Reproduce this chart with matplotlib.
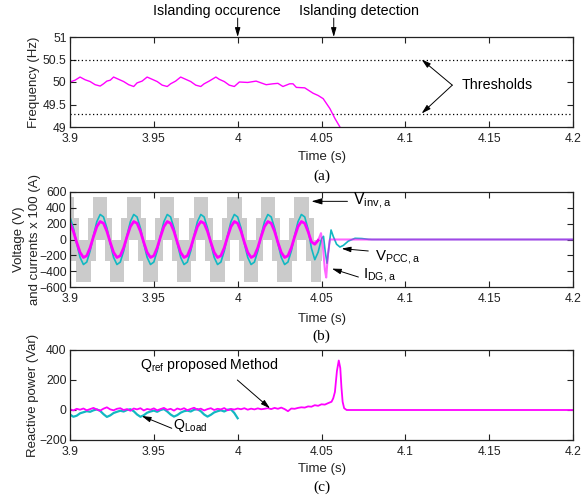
import matplotlib

matplotlib.use("Agg")
import matplotlib.pyplot as plt

plt.rcParams["font.family"] = ["Liberation Sans", "DejaVu Sans"]
plt.rcParams["mathtext.default"] = "regular"

W, H = 582, 501
MAGENTA = "#ff00ff"
CYAN = "#12b8c2"
GRAY = "#cbcbcb"

# (a) frequency
freq_t = [3.900, 3.903, 3.906, 3.909, 3.912, 3.915, 3.918, 3.920, 3.922, 3.924,
          3.926, 3.929, 3.932, 3.935, 3.938, 3.940, 3.943, 3.946, 3.949, 3.952,
          3.955, 3.958, 3.960, 3.963, 3.966, 3.969, 3.972, 3.975, 3.978, 3.980,
          3.983, 3.987, 3.989, 3.992, 3.995, 3.998, 4.001, 4.006, 4.011, 4.014,
          4.017, 4.021, 4.024, 4.027, 4.031, 4.033, 4.035, 4.040, 4.045, 4.048,
          4.051, 4.055, 4.058, 4.061, 4.063]
freq_hz = [50.00, 50.04, 50.11, 50.05, 50.01, 49.94, 49.91, 49.96, 50.02, 50.04,
           50.11, 50.06, 50.01, 49.94, 49.90, 49.98, 50.02, 50.11, 50.06, 50.01,
           49.93, 49.90, 49.96, 50.02, 50.11, 50.06, 50.01, 49.93, 49.90, 49.96,
           50.02, 50.11, 50.06, 50.01, 49.93, 49.90, 50.00, 49.99, 50.02, 49.98,
           49.94, 49.96, 49.97, 49.90, 49.96, 49.96, 49.88, 49.87, 49.75, 49.70,
           49.63, 49.41, 49.19, 49.00, 48.85]
thresholds = [50.5, 49.3]
event_t = [4.0, 4.0573]
event_labels = ["Islanding occurence", "Islanding detection"]
event_text_t = [3.9495, 4.0366]

# (b) voltages and currents
wave_t = [3.900, 3.902, 3.904, 3.906, 3.908, 3.910, 3.912, 3.914, 3.916, 3.918,
          3.920, 3.922, 3.924, 3.926, 3.928, 3.930, 3.932, 3.934, 3.936, 3.938,
          3.940, 3.942, 3.944, 3.946, 3.948, 3.950, 3.952, 3.954, 3.956, 3.958,
          3.960, 3.962, 3.964, 3.966, 3.968, 3.970, 3.972, 3.974, 3.976, 3.978,
          3.980, 3.982, 3.984, 3.986, 3.988, 3.990, 3.992, 3.994, 3.996, 3.998,
          4.000, 4.002, 4.004, 4.006, 4.008, 4.010, 4.012, 4.014, 4.016, 4.018,
          4.020, 4.022, 4.024, 4.026, 4.028, 4.030, 4.032, 4.034, 4.036, 4.038,
          4.040, 4.042, 4.044, 4.046, 4.048]
vpcc = [285, 145, -50, -226, -316, -285, -145, 50, 226, 316,
        285, 145, -50, -226, -316, -285, -145, 50, 226, 316,
        285, 145, -50, -226, -316, -285, -145, 50, 226, 316,
        285, 145, -50, -226, -316, -285, -145, 50, 226, 316,
        285, 145, -50, -226, -316, -285, -145, 50, 226, 316,
        285, 145, -50, -226, -316, -285, -145, 50, 226, 316,
        285, 145, -50, -226, -316, -285, -145, 50, 226, 316,
        285, 130, -110, -255, -160]
idg = [205, 104, -36, -163, -227, -205, -104, 36, 163, 227,
       205, 104, -36, -163, -227, -205, -104, 36, 163, 227,
       205, 104, -36, -163, -227, -205, -104, 36, 163, 227,
       205, 104, -36, -163, -227, -205, -104, 36, 163, 227,
       205, 104, -36, -163, -227, -205, -104, 36, 163, 227,
       205, 104, -36, -163, -227, -205, -104, 36, 163, 227,
       205, 104, -36, -163, -227, -205, -104, 36, 163, 227,
       205, 100, -30, -60, -10]
vpcc_tr_t = [4.048, 4.0500, 4.0512, 4.0522, 4.0533, 4.0545, 4.0557, 4.0570, 4.0590,
             4.0610, 4.0630, 4.0660, 4.0700, 4.0740, 4.0780, 4.0800, 4.2000]
vpcc_tr = [-160, 10, 40, -150, -300, -80, 120, 40, -60, -95, -75, -20, 15, 12, 2, 0, 0]
idg_tr_t = [4.048, 4.0497, 4.0508, 4.0520, 4.0528, 4.0538, 4.0550, 4.2000]
idg_tr = [-10, 80, -80, -380, -480, -200, 0, 0]

# inverter output: switching bands (start, end) per level band
vinv_levels = [270, 540]
vinv_top = [(3.9000, 3.9023), (3.9137, 3.9223), (3.9337, 3.9423), (3.9537, 3.9623),
            (3.9737, 3.9823), (3.9937, 4.0023), (4.0137, 4.0223), (4.0337, 4.0423)]
vinv_bot = [(3.9037, 3.9123), (3.9237, 3.9323), (3.9437, 3.9523), (3.9637, 3.9723),
            (3.9837, 3.9923), (4.0037, 4.0123), (4.0237, 4.0323), (4.0437, 4.0495)]
vinv_pos = [(3.9000, 3.9053), (3.9107, 3.9253), (3.9307, 3.9453), (3.9507, 3.9653),
            (3.9707, 3.9853), (3.9907, 4.0053), (4.0107, 4.0253), (4.0307, 4.0453)]
vinv_neg = [(3.9007, 3.9153), (3.9207, 3.9353), (3.9407, 3.9553), (3.9607, 3.9753),
            (3.9807, 3.9953), (4.0007, 4.0153), (4.0207, 4.0353), (4.0407, 4.0500)]

# (c) reactive power
qref_t = [3.900, 3.902, 3.904, 3.906, 3.908, 3.910, 3.912, 3.914, 3.916, 3.918,
          3.920, 3.922, 3.924, 3.926, 3.928, 3.930, 3.932, 3.934, 3.936, 3.938,
          3.940, 3.942, 3.944, 3.946, 3.948, 3.950, 3.952, 3.954, 3.956, 3.958,
          3.960, 3.962, 3.964, 3.966, 3.968, 3.970, 3.972, 3.974, 3.976, 3.978,
          3.980, 3.982, 3.984, 3.986, 3.988, 3.990, 3.992, 3.994, 3.996, 3.998,
          4.000, 4.002, 4.004, 4.006, 4.008, 4.010, 4.012, 4.014, 4.016, 4.018,
          4.020, 4.022, 4.024, 4.026, 4.028, 4.030, 4.032, 4.034, 4.036, 4.038,
          4.040, 4.042, 4.044, 4.046, 4.048, 4.050, 4.052, 4.054, 4.056, 4.057,
          4.058, 4.0592, 4.0603, 4.0612, 4.0619, 4.0626, 4.0635, 4.0650, 4.2000]
qref = [5, -3, 8, 2, 10, -2, 6, 14, 3, -4,
        9, 18, 4, -2, 8, 12, 0, 6, -5, 10,
        4, 12, -3, 7, 2, 11, -2, 6, 14, 1,
        8, -4, 10, 3, 12, -1, 7, 15, 2, 9,
        -3, 6, 12, 0, 8, 4, 13, -2, 7, 3,
        10, 5, 12, 2, 9, 4, 11, 5, 8, 12,
        6, 14, 8, 16, 6, -8, 10, 8, 14, 18,
        16, 24, 22, 32, 28, 38, 36, 46, 55, 78,
        120, 260, 330, 280, 150, 55, 12, 0, 0]
qload_t = qref_t[:51]
qload = [-30, -45, -38, -22, -15, -8, -12, -2, 4, -6,
         -28, -46, -36, -20, -12, -5, -10, 0, 5, -8,
         -30, -45, -35, -18, -10, -4, -12, 0, 6, -10,
         -30, -44, -34, -18, -8, -4, -10, 2, 5, -8,
         -30, -44, -32, -16, -8, -2, -10, 2, 4, -20,
         -55]

time_ticks = [3.9, 3.95, 4.0, 4.05, 4.1, 4.15, 4.2]
time_labels = ["3.9", "3.95", "4", "4.05", "4.1", "4.15", "4.2"]


def box(left, top, right, bottom):
    return [left / W, 1 - bottom / H, (right - left) / W, (bottom - top) / H]


def style_axes(ax, yticks, ylabel, ylabel_x, xlabel_y):
    ax.set_xlim(3.9, 4.2)
    ax.set_xticks(time_ticks)
    ax.set_xticklabels(time_labels)
    ax.set_yticks(yticks)
    ax.set_ylim(yticks[0], yticks[-1])
    ax.tick_params(direction="in", top=True, right=True, length=4, width=0.8,
                   labelsize=8.7, colors="#222222")
    ax.tick_params(axis="x", pad=4)
    ax.tick_params(axis="y", pad=2.5)
    for sp in ax.spines.values():
        sp.set_linewidth(0.9)
        sp.set_color("#222222")
    ax.set_xlabel("Time (s)", fontsize=9.5, color="#222222")
    ax.xaxis.set_label_coords(0.5, xlabel_y)
    ax.set_ylabel(ylabel, fontsize=9.5, color="#222222", linespacing=1.45)
    ax.yaxis.set_label_coords(ylabel_x, 0.5)


ARROW = dict(arrowstyle="-|>,head_length=0.55,head_width=0.16", color="k",
             lw=0.7, shrinkA=0, shrinkB=0)


def main():
    fig = plt.figure(figsize=(W / 100, H / 100), dpi=100)

    # (a)
    ax = fig.add_axes(box(70, 37, 573, 127))
    for th in thresholds:
        ax.axhline(th, color="k", ls=(0, (1, 2)), lw=0.9)
    ax.plot(freq_t, freq_hz, color=MAGENTA, lw=1.0)
    style_axes(ax, [49, 49.5, 50, 50.5, 51], "Frequency (Hz)", -0.06, -0.27)
    ax.set_yticklabels(["49", "49.5", "50", "50.5", "51"])
    for t, label, t_txt in zip(event_t, event_labels, event_text_t):
        ax.text(t_txt, 51.57, label, ha="left", va="center", fontsize=10.3,
                clip_on=False)
        ax.annotate("", xy=(t, 51.0), xytext=(t, 51.42), arrowprops=ARROW,
                    annotation_clip=False)
    ax.text(4.1338, 49.93, "Thresholds", fontsize=10.3, va="center")
    for th in thresholds:
        ax.annotate("", xy=(4.1097, th), xytext=(4.128, 49.93), arrowprops=ARROW)

    # (b)
    ax = fig.add_axes(box(70, 192, 573, 287))
    lo, hi = vinv_levels
    for bands, y0, y1 in [(vinv_top, lo, hi), (vinv_pos, 0, lo),
                          (vinv_neg, -lo, 0), (vinv_bot, -hi, -lo)]:
        for t0, t1 in bands:
            ax.fill_between([t0, t1], y0, y1, color=GRAY, lw=0)
    ax.plot(wave_t + vpcc_tr_t, vpcc + vpcc_tr, color=CYAN, lw=1.2)
    ax.plot(wave_t, idg, color=MAGENTA, lw=2.0)
    ax.plot(idg_tr_t, idg_tr, color=MAGENTA, lw=1.5, alpha=0.6)
    style_axes(ax, [-600, -400, -200, 0, 200, 400, 600],
               "Voltage (V)\nand currents x 100 (A)", -0.058, -0.27)
    ax.annotate(r"V$_{inv,a}$", xy=(4.044, 482), xytext=(4.0688, 482),
                ha="left", va="center", fontsize=11.5,
                arrowprops=dict(ARROW, shrinkA=2))
    ax.annotate("", xy=(4.0620, -115), xytext=(4.0779, -145), arrowprops=ARROW)
    ax.text(4.0819, -262, r"V$_{PCC,a}$", ha="left", va="baseline", fontsize=10.8)
    ax.annotate("", xy=(4.0562, -368), xytext=(4.0720, -474), arrowprops=ARROW)
    ax.text(4.0747, -488, r"I$_{DG,a}$", ha="left", va="baseline", fontsize=10.8)

    # (c)
    ax = fig.add_axes(box(70, 350, 573, 440))
    ax.plot(qload_t, qload, color=CYAN, lw=1.6)
    ax.plot(qref_t, qref, color=MAGENTA, lw=1.3)
    style_axes(ax, [-200, 0, 200, 400], "Reactive power (Var)", -0.061, -0.255)
    ax.text(3.9417, 300, r"Q$_{ref}$ proposed Method", ha="left", va="center",
            fontsize=10.2)
    ax.annotate("", xy=(4.0193, 11), xytext=(3.9998, 200), arrowprops=ARROW)
    ax.text(3.9616, -100, r"Q$_{Load}$", ha="left", va="center", fontsize=10.2)
    ax.annotate("", xy=(3.9428, -40), xytext=(3.9607, -122), arrowprops=ARROW)

    for label, y in [("(a)", 176), ("(b)", 336), ("(c)", 487)]:
        fig.text(321.5 / W, 1 - y / H, label, ha="center", va="center",
                 family="Liberation Serif", fontsize=11)

    fig.savefig("out.png", dpi=100)
    plt.close(fig)


if __name__ == "__main__":
    main()
